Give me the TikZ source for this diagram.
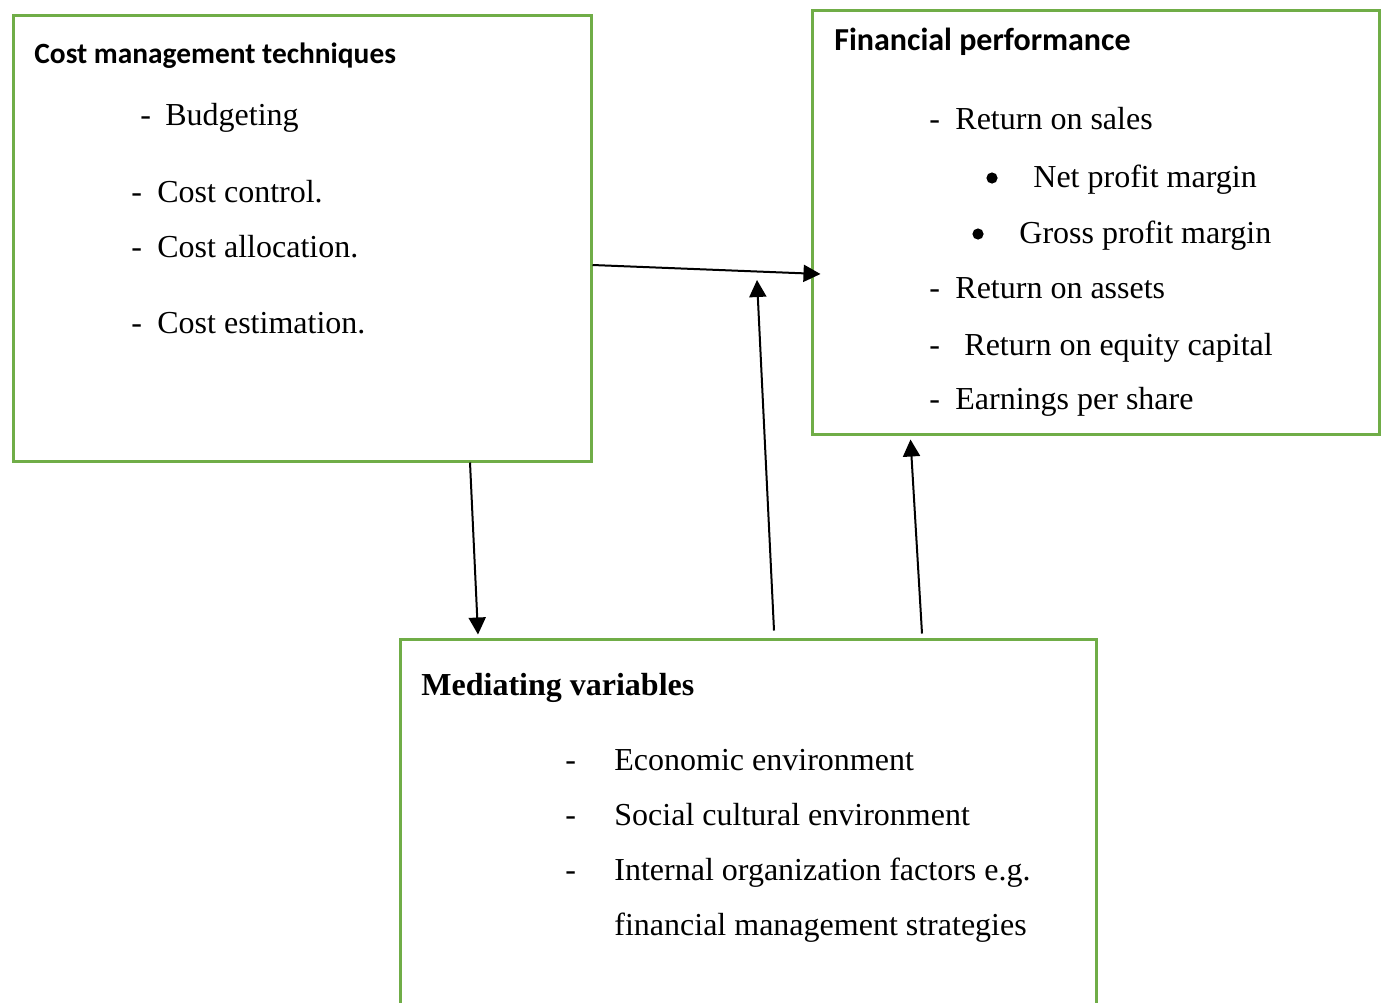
\documentclass[tikz,border=0pt]{standalone}
\usepackage{fontspec}
\setmainfont{Liberation Serif}
\newfontfamily\headfont{Carlito}
\usepackage{xcolor}
\usetikzlibrary{
    arrows.meta,
    calc,
    fit
}
\definecolor{boxgreen}{RGB}{112,173,71}
\tikzset{
    box/.style={draw=boxgreen, line width=1.5pt, inner sep=0pt},
    txt/.style={anchor=base west, inner sep=0pt, font=\fontsize{16}{19}\selectfont},
    head/.style={anchor=base west, inner sep=0pt, font=\headfont\bfseries\fontsize{16}{19}\selectfont},
    dot/.style={circle, fill, inner sep=0pt, minimum size=5.6pt},
    link/.style={line width=1pt, -{Triangle[length=8.5pt, width=8.5pt]}}
}

\begin{document}
\begin{tikzpicture}[x=0.5pt, y=-0.5pt]
                        \useasboundingbox (0, 0) rectangle (1385, 1002);

                        % the three boxes
                        \node[box, fit={(13, 15) (591, 461)}] (cost) {};
                        \node[box, fit={(812, 10) (1379, 434)}] (perf) {};
                        \node[box, fit={(400, 639) (1096, 1040)}] (med) {};

                        % cost management techniques
                        \node[head, font=\headfont\bfseries\fontsize{14.7}{18}\selectfont] (costhead) at (34, 63) {Cost management techniques};
                        \node[txt] (d1) at (140, 125) {-};
                        \node[txt] (budget) at (165, 125) {Budgeting};
                        \node[txt] (d2) at (131, 202) {-};
                        \node[txt] (control) at (157, 202) {Cost control.};
                        \node[txt] (d3) at (131, 257) {-};
                        \node[txt] (alloc) at (157, 257) {Cost allocation.};
                        \node[txt] (d4) at (131, 333) {-};
                        \node[txt] (estim) at (157, 333) {Cost estimation.};

                        % financial performance
                        \node[head] (perfhead) at (834, 50) {Financial performance};
                        \node[txt] (d5) at (929, 129) {-};
                        \node[txt] (sales) at (955, 129) {Return on sales};
                        \node[dot] (b1) at (992, 178) {};
                        \node[txt] (net) at (1033, 187) {Net profit margin};
                        \node[dot] (b2) at (978, 234) {};
                        \node[txt] (gross) at (1019, 243) {Gross profit margin};
                        \node[txt] (d6) at (929, 298) {-};
                        \node[txt] (assets) at (955, 298) {Return on assets};
                        \node[txt] (d7) at (929, 355) {-};
                        \node[txt] (equity) at (964, 355) {Return on equity capital};
                        \node[txt] (d8) at (929, 409) {-};
                        \node[txt] (eps) at (955, 409) {Earnings per share};

                        % mediating variables
                        \node[txt, font=\bfseries\fontsize{16}{19}\selectfont] (medhead) at (421, 695) {Mediating variables};
                        \node[txt] (d9) at (565, 770) {-};
                        \node[txt] (econ) at (614, 770) {Economic environment};
                        \node[txt] (d10) at (565, 825) {-};
                        \node[txt] (social) at (614, 825) {Social cultural environment};
                        \node[txt] (d11) at (565, 880) {-};
                        \node[txt] (internal) at (614, 880) {Internal organization factors e.g.};
                        \node[txt] (strat) at (614, 935) {financial management strategies};

                        \coordinate (mid) at (757, 280);

                        \draw
                        ($(cost.east)+(0, 27)$) edge[link] ($(perf.west)+(10, 52)$)
                        ($(cost.south)+(168, 0)$) edge[link] ($(med.north)+(-270, -3)$)
                        ($(med.north)+(26, -7)$) edge[link] (mid)
                        ($(med.north)+(174, -4)$) edge[link] ($(perf.south)+(-185, 4)$);
                    \end{tikzpicture}
\end{document}
